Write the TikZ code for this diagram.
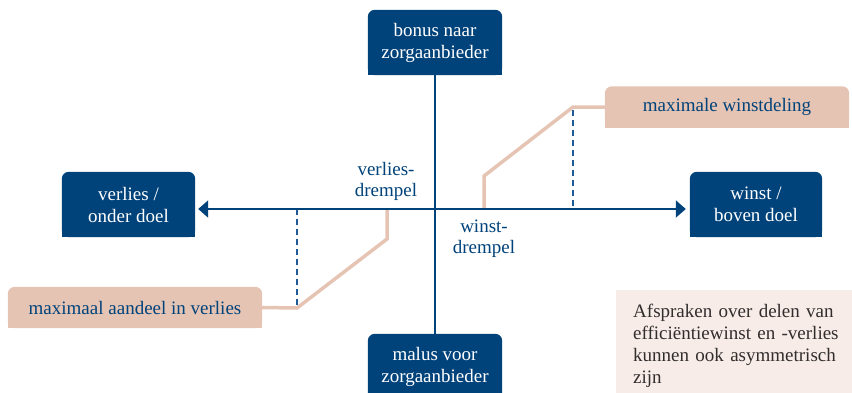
\documentclass[tikz,border=0pt]{standalone}
\usepackage{fontspec}
\setmainfont{Liberation Serif}
\usetikzlibrary{arrows.meta,backgrounds}
\definecolor{dblue}{RGB}{0,66,122}
\definecolor{mblue}{RGB}{30,90,150}
\definecolor{rose}{RGB}{229,196,180}
\definecolor{pale}{RGB}{247,236,232}
\definecolor{ink}{RGB}{50,45,45}
\tikzset{
  txt/.style={font=\fontsize{19}{22}\selectfont, align=center, inner sep=0pt},
  darkbox/.style={txt, text=white, minimum width=134pt, minimum height=65pt},
  rosebox/.style={txt, text=dblue, minimum height=41pt},
  lbl/.style={txt, text=dblue, font=\fontsize{19}{20.5}\selectfont},
  notebox/.style={txt, text=ink, align=left, fill=pale, anchor=north west,
    inner xsep=17pt, inner ysep=14pt, text width=219pt},
  axis/.style={draw=dblue, line width=2pt},
  axisarrow/.style={axis, {Triangle[length=10pt,width=17pt]}-{Triangle[length=10pt,width=17pt]}},
  roseline/.style={draw=rose, line width=3.5pt},
  guide/.style={draw=mblue, line width=1.2pt, dash pattern=on 6pt off 4pt},
}
\newcommand\tabfill[2]{%
  \fill[#2, rounded corners=7pt] (#1.south west) rectangle (#1.north east);
  \fill[#2] (#1.south west) rectangle (#1.east);}
\begin{document}
\begin{tikzpicture}[x=1pt, y=-1pt]
\useasboundingbox (0,0) rectangle (852,392);

% note box
\node[notebox] (note) at (616,290) {Afspraken over delen van\\ efficiëntiewinst en -verlies\\ kunnen ook asymmetrisch\\ zijn};

% boxes
\node[darkbox] (top) at (435,42.5) {bonus naar\\ zorgaanbieder};
\node[darkbox, minimum width=133pt] (left) at (128.5,204.5) {verlies /\\ onder doel};
\node[darkbox, minimum width=132pt] (right) at (756,204.5) {winst /\\ boven doel};
\node[darkbox] (bottom) at (435,366.5) {malus voor\\ zorgaanbieder};
\node[rosebox, minimum width=244pt] (roseR) at (727,107) {maximale winstdeling};
\node[rosebox, minimum width=254pt] (roseL) at (135,307.5) {maximaal aandeel in verlies};

\begin{scope}[on background layer]
  \tabfill{top}{dblue}
  \tabfill{left}{dblue}
  \tabfill{right}{dblue}
  \tabfill{bottom}{dblue}
  \tabfill{roseR}{rose}
  \tabfill{roseL}{rose}
\end{scope}

% coordinates
\coordinate (o) at (435,209);
\coordinate (kR1) at (573,107);
\coordinate (kR2) at (484,176);
\coordinate (fR) at (484,209);
\coordinate (kL1) at (297,308);
\coordinate (kL2) at (387,239);
\coordinate (fL) at (387,209);

% guides
\draw[guide] ([yshift=-3pt]kR1) -- (kR1 |- o);
\draw[guide] (kL1 |- o) -- ([yshift=3pt]kL1);

% rose lines
\draw[roseline] (roseR.west) -- (kR1) -- (kR2) -- (fR);
\draw[roseline] (roseL.east) -- (kL1) -- (kL2) -- (fL);

% axes
\draw[axis] (top.south) -- (bottom.north);
\draw[axisarrow, shorten <=3pt, shorten >=4pt] (left.east |- o) -- (right.west |- o);

% labels
\node[lbl] (vd) at (386,181.5) {verlies-\\ drempel};
\node[lbl] (wd) at (484,238.5) {winst-\\ drempel};
\end{tikzpicture}
\end{document}
